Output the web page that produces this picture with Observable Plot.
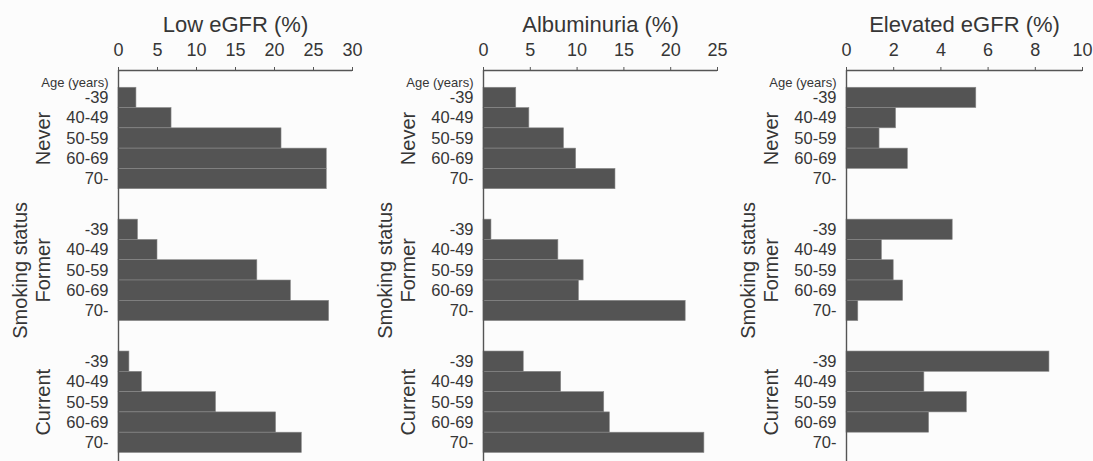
<!DOCTYPE html>
<html>
<head>
<meta charset="utf-8">
<script src="https://cdn.jsdelivr.net/npm/d3@7"></script>
<script src="https://cdn.jsdelivr.net/npm/@observablehq/plot@0.6"></script>
<style>
  html, body { margin: 0; padding: 0; background: #fcfcfc; overflow: hidden; }
  #row { display: flex; flex-direction: row; width: 1093px; height: 461px; }
  svg { font-family: "Liberation Sans", Arial, sans-serif; }
</style>
</head>
<body>
<div id="row"></div>
<script>
// ---- data ----
const ageGroups = ["-39", "40-49", "50-59", "60-69", "70-"];
const smokingStatus = ["Never", "Former", "Current"];

// prevalence (%) by smoking status (rows) and age group (columns)
const lowEGFR = [
  [2.3, 6.8, 20.9, 26.7, 26.7],
  [2.5, 5.0, 17.8, 22.1, 27.0],
  [1.4, 3.0, 12.5, 20.2, 23.5]
];
const albuminuria = [
  [3.5, 4.9, 8.6, 9.9, 14.1],
  [0.85, 8.0, 10.7, 10.2, 21.6],
  [4.3, 8.3, 12.9, 13.5, 23.6]
];
const elevatedEGFR = [
  [5.5, 2.1, 1.4, 2.6, 0],
  [4.5, 1.5, 2.0, 2.4, 0.5],
  [8.6, 3.3, 5.1, 3.5, 0]
];

const panelTitles = ["Low eGFR (%)", "Albuminuria (%)", "Elevated eGFR (%)"];
const xMax = [30, 25, 10];
const xTickStep = [5, 5, 2];
const panelValues = [lowEGFR, albuminuria, elevatedEGFR];

// ---- layout (slot units along y) ----
const groupStep = ageGroups.length + 1.5;   // 5 bars + gap of 1.5 bars
const yDomain = [-0.85, 18.42];
const ink = "#363636";

function rowsFor(values) {
  const rows = [];
  smokingStatus.forEach((s, g) => {
    ageGroups.forEach((a, k) => {
      const y1 = g * groupStep + k;
      rows.push({status: s, age: a, value: values[g][k], y1, y2: y1 + 1, yc: y1 + 0.5});
    });
  });
  return rows;
}

const widths = [364, 364, 365];
const mLeft = [118, 119, 118];
const mRight = [12, 11, 11];

panelValues.forEach((values, p) => {
  const rows = rowsFor(values);
  const tickMap = new Map(rows.map(r => [r.yc, r.age]));
  const groupCenters = smokingStatus.map((s, g) => ({status: s, yc: g * groupStep + ageGroups.length / 2}));
  const allCenter = ((smokingStatus.length - 1) * groupStep + ageGroups.length) / 2;

  const chart = Plot.plot({
    width: widths[p],
    height: 461,
    marginLeft: mLeft[p],
    marginRight: mRight[p],
    marginTop: 70,
    marginBottom: 0,
    style: {background: "transparent", color: ink, fontFamily: '"Liberation Sans", Arial, sans-serif'},
    x: {domain: [0, xMax[p]]},
    y: {domain: yDomain, reverse: true},
    marks: [
      Plot.rect(rows, {x1: d => 0, x2: "value", y1: "y1", y2: "y2", fill: "#545454", stroke: "#8a8a8a", strokeWidth: 0.6}),
      Plot.ruleX([0], {stroke: "#555", strokeWidth: 1.4}),
      Plot.ruleY([yDomain[0]], {stroke: "#555", strokeWidth: 1.4}),
      Plot.axisX({
        anchor: "top",
        ticks: d3.range(0, xMax[p] + 0.001, xTickStep[p]),
        tickSize: 4,
        tickPadding: 11,
        fontSize: 18,
        label: null,
        stroke: "#555"
      }),
      Plot.axisY({
        anchor: "left",
        ticks: rows.map(r => r.yc),
        tickFormat: d => tickMap.get(d),
        tickSize: 0,
        tickPadding: 10,
        fontSize: 16.5,
        label: null
      }),
      Plot.text(["Age (years)"], {frameAnchor: "top-left", dx: -10, dy: 12, textAnchor: "end", lineAnchor: "middle", fontSize: 13, letterSpacing: -0.3}),
      Plot.text(groupCenters, {y: "yc", text: "status", frameAnchor: "left", dx: -75, rotate: -90, textAnchor: "middle", lineAnchor: "middle", fontSize: 20}),
      Plot.text(["Smoking status"], {y: () => allCenter, frameAnchor: "left", dx: -98, rotate: -90, textAnchor: "middle", lineAnchor: "middle", fontSize: 20}),
      Plot.text([panelTitles[p]], {frameAnchor: "top", dy: -46, textAnchor: "middle", lineAnchor: "middle", fontSize: 22})
    ]
  });
  document.getElementById("row").appendChild(chart);
});
</script>
</body>
</html>
